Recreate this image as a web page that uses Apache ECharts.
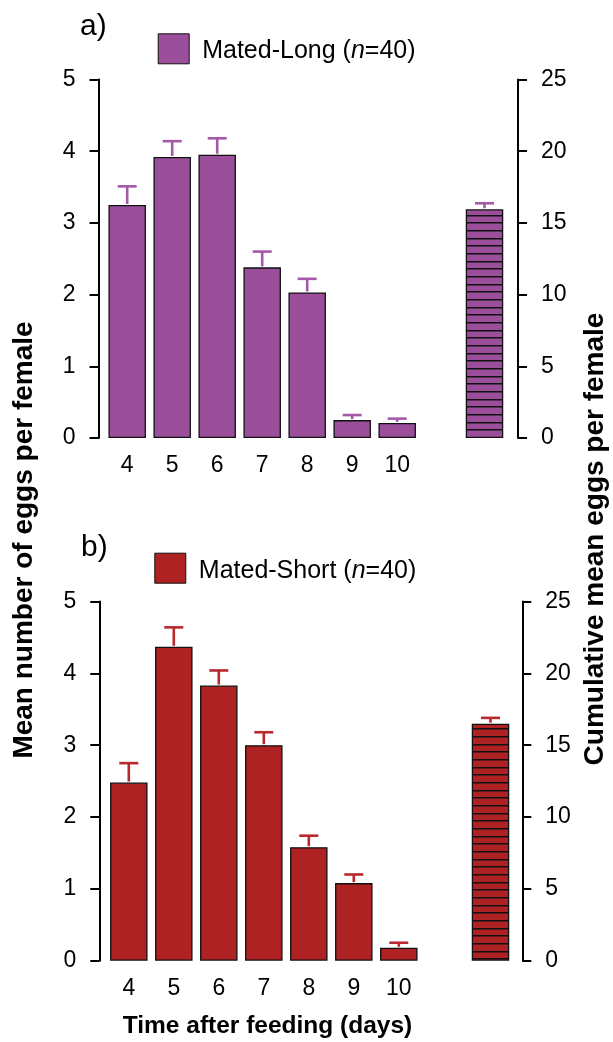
<!DOCTYPE html>
<html>
<head>
<meta charset="utf-8">
<script src="https://cdn.jsdelivr.net/npm/echarts@6/dist/echarts.min.js"></script>
<style>
html,body{margin:0;padding:0;background:#fff;}
#chart{width:613px;height:1042px;}
</style>
</head>
<body>
<div id="chart"></div>
<script>
// ---- data ----
var days = ['4', '5', '6', '7', '8', '9', '10'];
var longName = 'Mated-Long';
var shortName = 'Mated-Short';
var nLong = 40;
var nShort = 40;
var longMean = [3.25, 3.92, 3.95, 2.38, 2.03, 0.25, 0.21];
var longErr  = [0.26, 0.22, 0.23, 0.22, 0.19, 0.07, 0.06];
var longCum = [15.95];
var longCumErr = [0.42];
var shortMean = [2.48, 4.37, 3.83, 3.00, 1.58, 1.08, 0.18];
var shortErr  = [0.27, 0.27, 0.21, 0.18, 0.16, 0.12, 0.07];
var shortCum = [16.5];
var shortCumErr = [0.40];
var leftTicks = {min: 0, max: 5, interval: 1};
var rightTicks = {min: 0, max: 25, interval: 5};

// ---- styles ----
var FONT = 'Liberation Sans, Arial, sans-serif';
var purple = '#9b4f9b', purpleErr = '#a45aa6';
var red = '#ae2224', redErr = '#b8282c';

function stripes(color) {
  var c = document.createElement('canvas');
  c.width = 4; c.height = 23;
  var g = c.getContext('2d');
  g.fillStyle = color; g.fillRect(0, 0, 4, 23);
  g.fillStyle = '#111';
  [0, 8, 15].forEach(function (r) { g.fillRect(0, r, 4, 1.5); });
  return c;
}

function errSeries(xi, yi, means, errs, color) {
  return {
    type: 'custom', xAxisIndex: xi, yAxisIndex: yi, silent: true, z: 3,
    encode: {x: 0, y: 1},
    data: means.map(function (m, i) { return [i, m, errs[i]]; }),
    renderItem: function (params, api) {
      var i = api.value(0), m = api.value(1), e = api.value(2);
      var b = api.coord([i, m]), t = api.coord([i, m + e]);
      var st = {stroke: color, lineWidth: 2.6};
      return {type: 'group', children: [
        {type: 'line', shape: {x1: b[0], y1: b[1] - 1, x2: t[0], y2: t[1]}, style: st},
        {type: 'line', shape: {x1: t[0] - 9.5, y1: t[1], x2: t[0] + 9.5, y2: t[1]}, style: st}
      ]};
    }
  };
}

function yAxisCfg(gi, pos, ticks, offset, margin) {
  return {
    type: 'value', gridIndex: gi, position: pos, offset: offset,
    min: ticks.min, max: ticks.max, interval: ticks.interval,
    axisLine: {show: true, lineStyle: {color: '#000', width: 2}},
    axisTick: {show: true, inside: false, length: 9, lineStyle: {color: '#000', width: 2}},
    axisLabel: {margin: margin, fontSize: 23, color: '#000', fontFamily: FONT},
    splitLine: {show: false}
  };
}
function xCatCfg(gi) {
  return {
    type: 'category', gridIndex: gi, data: days,
    axisLine: {show: false}, axisTick: {show: false},
    axisLabel: {margin: 16, fontSize: 23, color: '#000', fontFamily: FONT}
  };
}
function xCumCfg(gi) {
  return {type: 'category', gridIndex: gi, data: ['cumulative'], show: false};
}
function legendCfg(name, n, left, top) {
  return {
    data: [name], left: left, top: top, padding: 0,
    itemWidth: 31, itemHeight: 30, icon: 'rect',
    itemStyle: {borderColor: '#111', borderWidth: 1},
    formatter: function (nm) { return '{t|' + nm + ' (}{i|n}{t|=' + n + ')}'; },
    textStyle: {
      fontSize: 25, color: '#000', fontFamily: FONT, padding: [5, 0, 0, 8],
      rich: {
        t: {fontSize: 25, color: '#000', fontFamily: FONT},
        i: {fontSize: 25, fontStyle: 'italic', color: '#000', fontFamily: FONT}
      }
    }
  };
}

var barBorder = {borderColor: '#111', borderWidth: 1.3};

var option = {
  backgroundColor: '#fff',
  animation: false,
  grid: [
    {left: 104.7, top: 79.5, width: 315, height: 358.5},
    {left: 451, top: 79.5, width: 67, height: 358.5},
    {left: 106.3, top: 601.5, width: 315, height: 359.2},
    {left: 458.7, top: 601.5, width: 63.6, height: 359.2}
  ],
  xAxis: [xCatCfg(0), xCumCfg(1), xCatCfg(2), xCumCfg(3)],
  yAxis: [
    yAxisCfg(0, 'left', leftTicks, 6.2, 23),
    yAxisCfg(1, 'right', rightTicks, 0, 23),
    yAxisCfg(2, 'left', leftTicks, 7, 23),
    yAxisCfg(3, 'right', rightTicks, 0, 23)
  ],
  legend: [
    legendCfg(longName, nLong, 157.7, 33.3),
    legendCfg(shortName, nShort, 154.3, 552.7)
  ],
  series: [
    {type: 'bar', name: longName, xAxisIndex: 0, yAxisIndex: 0, data: longMean, barWidth: 37.5,
     itemStyle: Object.assign({color: purple}, barBorder), z: 2},
    errSeries(0, 0, longMean, longErr, purpleErr),
    {type: 'bar', name: 'Cumulative-Long', xAxisIndex: 1, yAxisIndex: 1, data: longCum, barWidth: 37.5,
     itemStyle: Object.assign({color: {image: stripes(purple), repeat: 'repeat'}}, barBorder), z: 2},
    errSeries(1, 1, longCum, longCumErr, purpleErr),
    {type: 'bar', name: shortName, xAxisIndex: 2, yAxisIndex: 2, data: shortMean, barWidth: 37.5,
     itemStyle: Object.assign({color: red}, barBorder), z: 2},
    errSeries(2, 2, shortMean, shortErr, redErr),
    {type: 'bar', name: 'Cumulative-Short', xAxisIndex: 3, yAxisIndex: 3, data: shortCum, barWidth: 37.5,
     itemStyle: Object.assign({color: {image: stripes(red), repeat: 'repeat'}}, barBorder), z: 2},
    errSeries(3, 3, shortCum, shortCumErr, redErr)
  ],
  graphic: [
    {type: 'text', left: 80, top: 12, style: {text: 'a)', fontSize: 30, fill: '#000', fontFamily: FONT}},
    {type: 'text', left: 81, top: 533, style: {text: 'b)', fontSize: 30, fill: '#000', fontFamily: FONT}},
    {type: 'text', x: 24, y: 540, rotation: Math.PI / 2,
     style: {text: 'Mean number of eggs per female', fontSize: 28, fontWeight: 'bold', fill: '#000',
             fontFamily: FONT, align: 'center', verticalAlign: 'middle'}},
    {type: 'text', x: 595, y: 539, rotation: Math.PI / 2,
     style: {text: 'Cumulative mean eggs per female', fontSize: 28, fontWeight: 'bold', fill: '#000',
             fontFamily: FONT, align: 'center', verticalAlign: 'middle'}},
    {type: 'text', x: 267.5, y: 1026,
     style: {text: 'Time after feeding (days)', fontSize: 24.5, fontWeight: 'bold', fill: '#000',
             fontFamily: FONT, align: 'center', verticalAlign: 'middle'}}
  ]
};

var chart = echarts.init(document.getElementById('chart'), null, {renderer: 'canvas'});
chart.setOption(option);
</script>
</body>
</html>
